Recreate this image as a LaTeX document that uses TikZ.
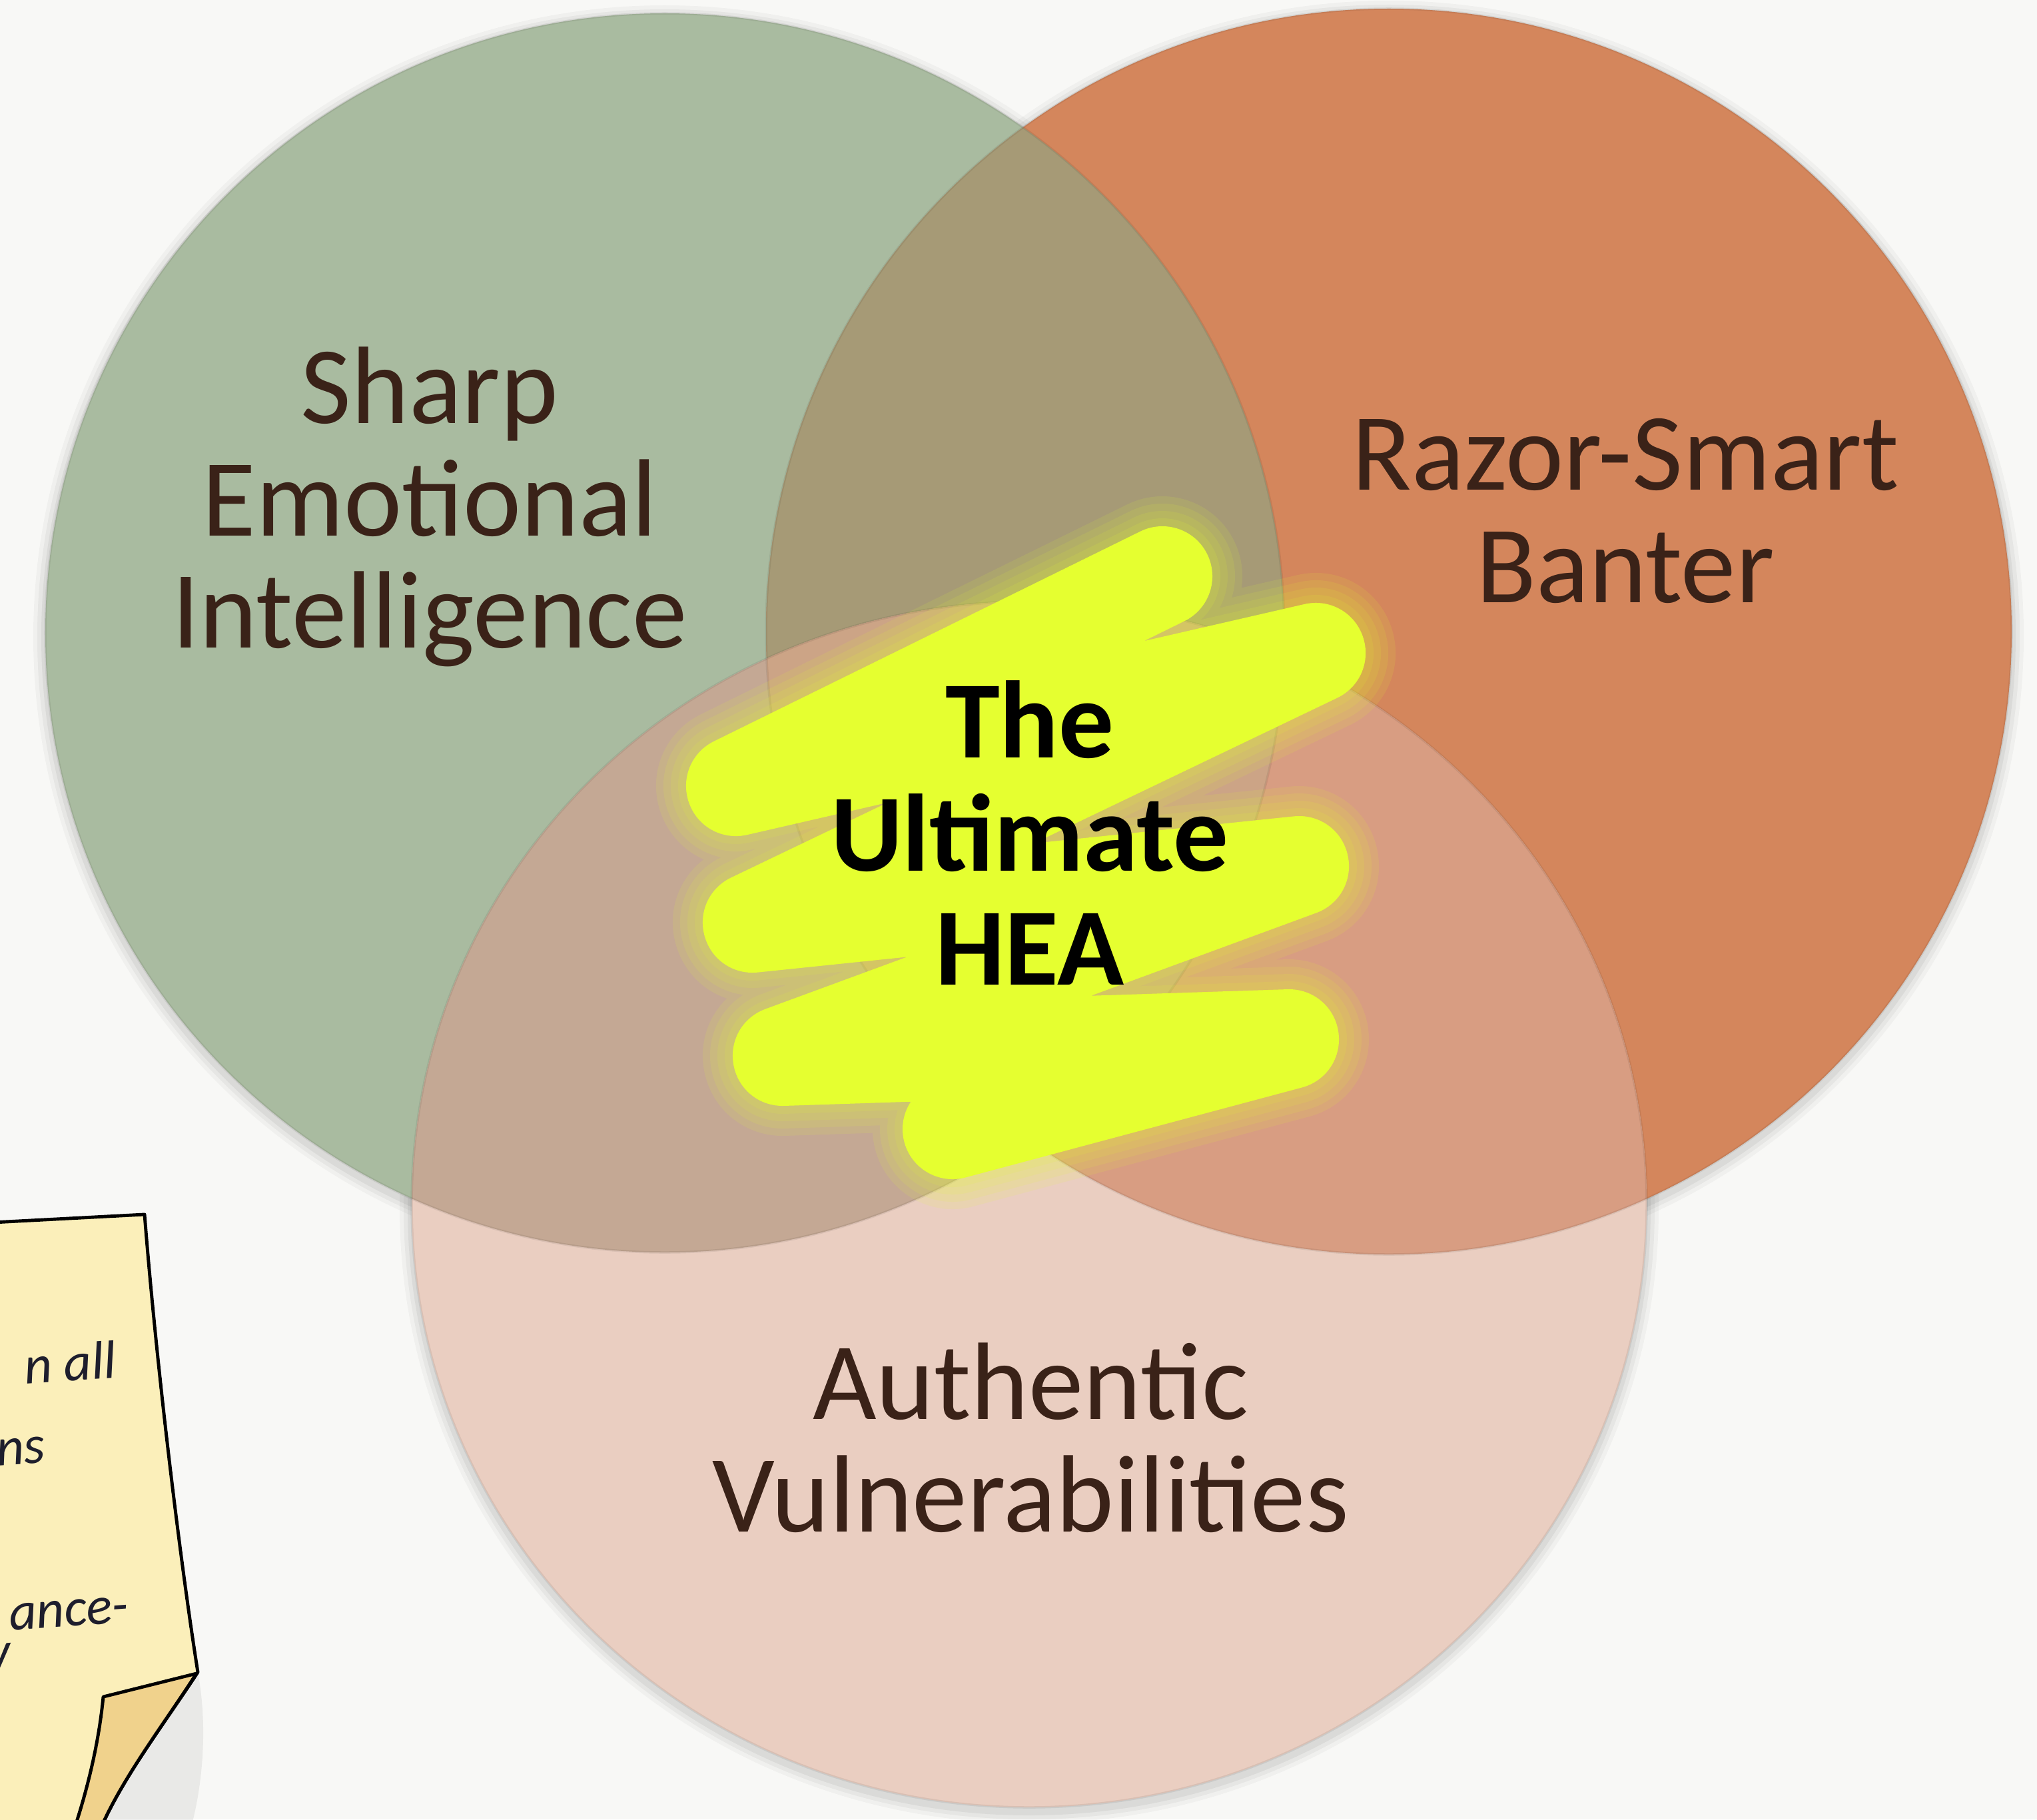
\documentclass[tikz,border=0pt]{standalone}
\usepackage{fontspec}
\setmainfont{Carlito}
\definecolor{bgcol}{RGB}{248,248,246}
\definecolor{cgreen}{RGB}{169,187,160}
\definecolor{corange}{RGB}{212,134,92}
\definecolor{cpink}{RGB}{234,206,193}
\definecolor{cgo}{RGB}{166,154,118}
\definecolor{cgp}{RGB}{196,168,148}
\definecolor{cop}{RGB}{216,157,130}
\definecolor{cgop}{RGB}{204,164,134}
\definecolor{ctext}{RGB}{58,34,24}
\definecolor{hlyellow}{RGB}{229,255,48}
\definecolor{notepaper}{RGB}{251,239,186}
\definecolor{notefold}{RGB}{240,210,140}
\definecolor{noteink}{RGB}{30,30,45}
\tikzset{
  label/.style={font=\fontsize{47}{48}\selectfont, text=ctext, align=center, inner sep=0pt},
  centerlabel/.style={font=\fontsize{47}{48.5}\selectfont\bfseries, text=black, align=center, inner sep=0pt},
  notetext/.style={font=\fontsize{23}{26}\selectfont\itshape, text=noteink, inner sep=0pt, rotate=4},
  hl/.style={draw=hlyellow, line width=1.5cm, line cap=round, line join=round},
  hlglow/.style={draw=hlyellow, line cap=round, line join=round, draw opacity=0.11},
  edge/.style={draw=black, draw opacity=0.07, line width=1pt}
}
\def\greenC{(9.98,-9.50) circle [radius=9.30]}
\def\orangeC{(20.85,-9.48) circle [radius=9.35]}
\def\pinkC{(15.45,-18.08) ellipse [x radius=9.27, y radius=9.05]}
\def\hlpath{(17.45,-8.65) -- (11.05,-11.80) -- (19.75,-9.80) -- (11.30,-13.85) -- (19.50,-13.00) -- (11.75,-15.85) -- (19.35,-15.60) -- (14.30,-16.95)}
\begin{document}
\begin{tikzpicture}
\useasboundingbox (0,0) rectangle (30.58,-27.31);
\fill[bgcol] (0,0) rectangle (30.58,-27.31);

% soft shadows
\foreach \s/\o in {0.18/0.03,0.12/0.04,0.06/0.05}{
  \fill[black,opacity=\o] (9.98,-9.56) circle [radius=9.30+\s];
  \fill[black,opacity=\o] (20.85,-9.54) circle [radius=9.35+\s];
  \fill[black,opacity=\o] (15.45,-18.14) ellipse [x radius=9.27+\s, y radius=9.05+\s];
}

% circles and overlaps
\fill[cgreen] \greenC;
\fill[corange] \orangeC;
\begin{scope}
  \clip \greenC;
  \fill[cgo] \orangeC;
\end{scope}
\fill[cpink] \pinkC;
\begin{scope}
  \clip \pinkC;
  \fill[cgp] \greenC;
  \fill[cop] \orangeC;
  \clip \greenC;
  \fill[cgop] \orangeC;
\end{scope}
\path[edge] \greenC;
\path[edge] \orangeC;
\path[edge] \pinkC;

% highlighter scribble with soft glow
\foreach \w in {0.90,0.68,0.46,0.24}{
  \draw[hlglow, line width=1.5cm+\w cm] \hlpath;
}
\draw[hl] \hlpath;

% labels
\node[label] (sei) at (6.45,-7.61) {Sharp\\Emotional\\Intelligence};
\node[label] (rsb) at (24.40,-7.67) {Razor-Smart\\Banter};
\node[label] (av) at (15.47,-21.58) {Authentic\\Vulnerabilities};
\node[centerlabel] (hea) at (15.46,-12.50) {The\\Ultimate\\HEA};

% sticky note
\fill[black,opacity=0.06] (2.97,-25.10) .. controls (3.12,-25.9) and (3.05,-26.8) .. (2.85,-27.5) -- (1.3,-27.5) -- cycle;
\draw[fill=notepaper, line width=1.4pt, line join=round] (-0.3,-18.36) -- (2.17,-18.23)
  .. controls (2.35,-20.5) and (2.70,-23.4) .. (2.97,-25.10)
  .. controls (2.45,-25.9) and (1.75,-26.8) .. (1.45,-27.6) -- (-0.3,-27.6) -- cycle;
\draw[fill=notefold, line width=1.4pt, line join=round] (2.95,-25.12) -- (1.55,-25.47)
  .. controls (1.48,-26.2) and (1.30,-26.9) .. (1.10,-27.5)
  -- (1.45,-27.6) .. controls (1.75,-26.8) and (2.45,-25.9) .. (2.95,-25.12);
\node[notetext, anchor=base east] (n1) at (1.77,-20.68) {n all};
\node[notetext, anchor=base east] (n2) at (0.70,-21.95) {ns};
\node[notetext, anchor=base east] (n3) at (1.95,-24.35) {ance-};
\node[notetext, anchor=base east] (n4) at (0.18,-25.05) {y};
\end{tikzpicture}
\end{document}
